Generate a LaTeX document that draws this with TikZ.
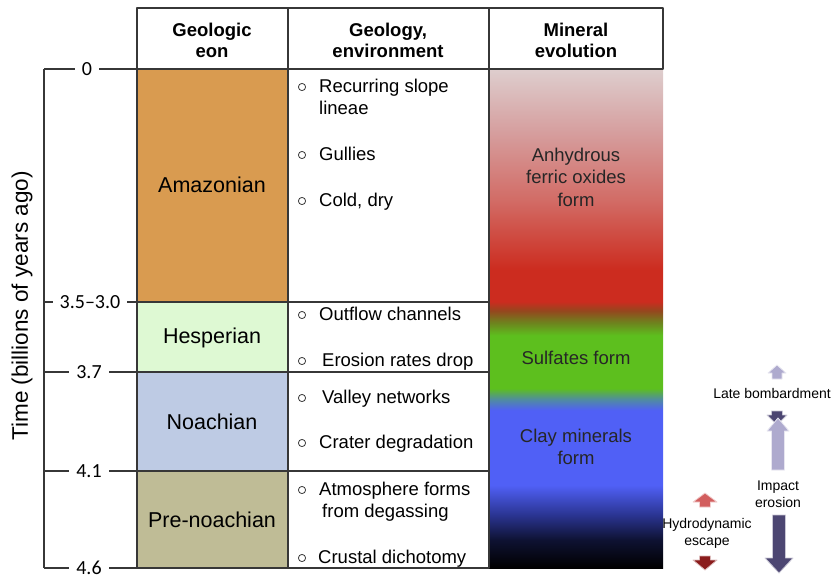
\documentclass[tikz,border=0pt]{standalone}
\usepackage{fontspec}
\setmainfont{Liberation Sans}
\newfontfamily\tickfont{Carlito}
\usetikzlibrary{calc}

\definecolor{amazon}{RGB}{217,155,80}
\definecolor{hesper}{RGB}{222,249,211}
\definecolor{noach}{RGB}{190,203,228}
\definecolor{prenoach}{RGB}{191,188,150}
\definecolor{gridgray}{RGB}{55,55,55}
\definecolor{mtop}{RGB}{222,206,206}
\definecolor{mpink}{RGB}{214,160,160}
\definecolor{mrose}{RGB}{210,108,102}
\definecolor{mred}{RGB}{204,44,31}
\definecolor{mrust}{RGB}{150,70,30}
\definecolor{molive}{RGB}{110,130,30}
\definecolor{mgreen}{RGB}{93,191,30}
\definecolor{mteal}{RGB}{80,140,160}
\definecolor{mblue}{RGB}{80,96,246}
\definecolor{mnavy}{RGB}{42,52,145}
\definecolor{mdark}{RGB}{14,18,50}
\definecolor{arrlight}{RGB}{174,170,206}
\definecolor{arrdark}{RGB}{76,70,114}
\definecolor{arrred}{RGB}{210,94,94}
\definecolor{arrbrown}{RGB}{138,28,28}

\pgfdeclareverticalshading{mineral}{100bp}{color(0bp)=(black); color(25bp)=(black);
  color(27.8bp)=(mdark); color(30.3bp)=(mnavy); color(33.3bp)=(mblue); color(40.8bp)=(mblue);
  color(41.9bp)=(mteal); color(43bp)=(mgreen); color(48.3bp)=(mgreen); color(49.6bp)=(molive);
  color(50.8bp)=(mrust); color(51.7bp)=(mred); color(54.9bp)=(mred); color(61.9bp)=(mrose);
  color(68.9bp)=(mpink); color(75bp)=(mtop); color(100bp)=(mtop)}

% style, x, tail, head base, tip, half shaft, half head
\newcommand{\blockarrow}[7]{%
  \filldraw[#1] (#2-#6,#3) -- (#2-#6,#4) -- (#2-#7,#4) -- (#2,#5) -- (#2+#7,#4)
    -- (#2+#6,#4) -- (#2+#6,#3) -- cycle;}

\begin{document}
\begin{tikzpicture}[x=1pt, y=-1pt, line join=round,
  grid/.style={draw=gridgray, line width=1.1pt},
  head/.style={align=center, font=\bfseries\fontsize{18.5}{21}\selectfont},
  eon/.style={font=\fontsize{21.5}{24}\selectfont},
  item/.style={anchor=base west, align=left, inner sep=0pt, font=\fontsize{18.5}{22}\selectfont},
  minlab/.style={align=center, text=black!85, font=\fontsize{18.5}{22.5}\selectfont},
  ticklab/.style={fill=white, inner xsep=7pt, inner ysep=1pt, font=\tickfont\fontsize{20}{22}\selectfont},
  small/.style={align=center, font=\fontsize{14}{17}\selectfont},
  lightarr/.style={fill=arrlight, draw=white!70!arrlight, line width=0.8pt},
  darkarr/.style={fill=arrdark, draw=white!70!arrdark, line width=0.8pt},
  redarr/.style={fill=arrred, draw=white!70!arrred, line width=0.8pt},
  brownarr/.style={fill=arrbrown, draw=white!70!arrbrown, line width=0.8pt}]
\useasboundingbox (0,0) rectangle (835,581);

% eon and mineral fills
\fill[amazon] (137,69) rectangle (288,302);
\fill[hesper] (137,302) rectangle (288,372);
\fill[noach] (137,372) rectangle (288,471);
\fill[prenoach] (137,471) rectangle (288,568);
\shade[shading=mineral] (489,69) rectangle (663,568);

% table lines
\draw[grid] (137,8) rectangle (663,69);
\draw[grid] (288,8) -- (288,69) (489,8) -- (489,69);
\foreach \ya/\yb in {69/302, 302/372, 372/471, 471/568}{
  \draw[grid] (137,\ya) rectangle (288,\yb);
  \draw[grid] (288,\ya) rectangle (489,\yb);
}

% time axis
\coordinate (axtop) at (44,69);
\coordinate (axbot) at (44,568);
\draw[grid] (axtop) -- (axbot);
\foreach \y/\lab/\nm/\xl in {69/0/t0/87, 302/3.5–3.0/t1/90, 372/3.7/t2/89, 471/4.1/t3/89, 568/4.6/t4/89}{
  \draw[grid] (44,\y) -- (137,\y);
  \node[ticklab] (\nm) at (\xl,\y) {\lab};
}
\node[rotate=90, font=\fontsize{22.5}{26}\selectfont] (timelab) at (22,306) {Time (billions of years ago)};

% headers
\node[head] (h1) at (212,40) {Geologic\\eon};
\node[head] (h2) at (388,40) {Geology,\\environment};
\node[head] (h3) at (576,40) {Mineral\\evolution};

% eons
\node[eon] (amaz) at (212,185) {Amazonian};
\node[eon] (hesp) at (212,338) {Hesperian};
\node[eon] (noa) at (212,422) {Noachian};
\node[eon] (pre) at (212,520) {Pre-noachian};

% geology items (two-line items sit on their last line)
\foreach \y/\by/\xt/\txt [count=\i] in {114/92/319/{Recurring slope\\lineae}, 160/160/319/Gullies,
  206/206/319/{Cold, dry}, 320/320/319/Outflow channels, 366/366/322/Erosion rates drop,
  403/403/322/Valley networks, 448/448/319/Crater degradation,
  517/495/319/{Atmosphere forms\\\hspace{3pt}from degassing}, 563/563/318/Crustal dichotomy}{
  \node[item] (g\i) at (\xt,\y) {\txt};
  \draw[gridgray, line width=0.8pt] (302,\by-5) circle (3.6);
}

% mineral evolution
\node[minlab] (ferric) at (576,177) {Anhydrous\\ferric oxides\\form};
\node[minlab] (sulf) at (576,358) {Sulfates form};
\node[minlab] (clay) at (576,447) {Clay minerals\\form};

% bombardment and escape
\blockarrow{lightarr}{777}{379}{373}{365}{5}{9}
\node[small] (late) at (772,393) {Late bombardment};
\blockarrow{darkarr}{777}{411}{415}{425}{5.5}{10}
\blockarrow{lightarr}{778}{470}{431}{418}{6.5}{11}
\node[small] (impact) at (778,494) {Impact\\erosion};
\blockarrow{darkarr}{779}{515}{558}{573}{6.5}{14}
\blockarrow{redarr}{705}{507}{502}{493}{5.5}{12}
\node[small] (hydro) at (707,533) {Hydrodynamic\\escape};
\blockarrow{brownarr}{705}{556}{560}{570}{5.5}{12}
\end{tikzpicture}
\end{document}
